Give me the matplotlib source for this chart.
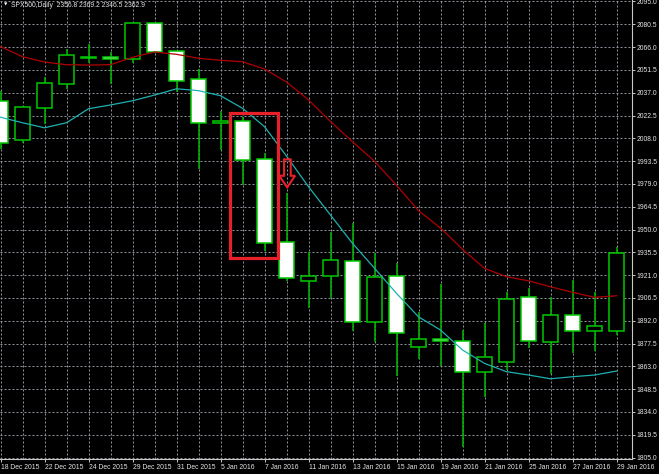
import numpy as np
import matplotlib
matplotlib.use('Agg')
import matplotlib.pyplot as plt
from matplotlib.patches import Rectangle, Polygon

# 日线数据 SPX500 (开, 高, 低, 收)
opens = [2031.9, 2007.2, 2027.5, 2042.7, 2060.0, 2059.6, 2058.4, 2081.1, 2063.3, 2045.5,
         2017.5, 2018.8, 1994.6, 1941.9, 1917.1, 1920.2, 1930.2, 1891.0, 1920.6, 1875.5,
         1880.4, 1879.3, 1859.2, 1865.7, 1906.9, 1878.6, 1895.6, 1885.4, 1885.6]
highs = [2038.3, 2028.2, 2046.8, 2065.0, 2067.8, 2062.9, 2081.5, 2081.6, 2063.8, 2051.9,
         2025.6, 2021.4, 1998.8, 1973.4, 1935.9, 1948.2, 1954.3, 1934.9, 1928.5, 1897.5,
         1915.3, 1886.1, 1890.7, 1910.4, 1912.6, 1907.3, 1917.9, 1910.1, 1939.1]
lows = [2001.0, 2005.0, 2016.9, 2039.2, 2056.1, 2042.5, 2055.7, 2062.5, 2037.6, 1988.3,
        2000.6, 1978.3, 1936.3, 1917.4, 1900.3, 1906.6, 1885.6, 1878.6, 1856.8, 1867.5,
        1863.2, 1811.5, 1843.7, 1861.0, 1874.4, 1858.1, 1871.7, 1872.7, 1883.1]
closes = [2004.8, 2027.7, 2043.0, 2060.8, 2058.9, 2058.7, 2081.1, 2062.9, 2044.4, 2017.9,
          2018.9, 1994.4, 1941.6, 1919.3, 1920.6, 1930.6, 1891.0, 1919.6, 1884.4, 1880.2,
          1879.4, 1859.2, 1868.7, 1905.6, 1879.1, 1895.6, 1885.4, 1888.6, 1935.2]

# 均线
ma_slow = [2066.3, 2059.9, 2056.5, 2054.8, 2054.6, 2054.8, 2059.5, 2062.9, 2061.4, 2058.9,
           2057.6, 2056.7, 2052.1, 2043.8, 2032.4, 2018.7, 2005.8, 1993.4, 1978.1, 1962.0,
           1951.0, 1937.4, 1925.3, 1920.0, 1917.4, 1913.6, 1910.1, 1906.9, 1907.9]
ma_fast = [2021.4, 2017.9, 2014.7, 2017.9, 2026.8, 2029.2, 2031.9, 2035.5, 2039.5, 2038.3,
           2035.1, 2027.1, 2015.4, 1996.7, 1977.2, 1959.2, 1941.2, 1925.4, 1909.4, 1894.5,
           1886.1, 1873.4, 1864.9, 1859.6, 1857.5, 1855.1, 1856.4, 1857.5, 1860.0]

date_labels = ['18 Dec 2015', '22 Dec 2015', '24 Dec 2015', '29 Dec 2015', '31 Dec 2015',
               '5 Jan 2016', '7 Jan 2016', '11 Jan 2016', '13 Jan 2016', '15 Jan 2016',
               '19 Jan 2016', '21 Jan 2016', '25 Jan 2016', '27 Jan 2016', '29 Jan 2016']
price_ticks = np.arange(1805.0, 2095.1, 14.5)

# 标注: 红框 (bar范围, 价格范围) 和 下箭头
box_bars = (10.43, 12.6)
box_prices = (1931.7, 2023.9)
arrow_bars = (12.67, 12.89, 13.19, 13.39)
arrow_prices = (1994.6, 1984.2, 1976.8)

plt.rcParams['font.family'] = ['Liberation Sans', 'DejaVu Sans']

fig = plt.figure(figsize=(6.59, 4.74), dpi=100, facecolor='black')
ax = fig.add_axes([0, 14.7 / 474, 631.7 / 659, 459.3 / 474])
ax.set_facecolor('black')

x = np.arange(len(opens))
o = np.array(opens)
c = np.array(closes)

# 影线
ax.vlines(x, lows, highs, color='#00b400', lw=1.15, zorder=2)
# 实体: 阳线黑色, 阴线白色
bottoms = np.minimum(o, c)
heights = np.maximum(np.abs(c - o), 0.6)
fills = ['black' if cc > oo else 'white' for oo, cc in zip(opens, closes)]
ax.bar(x, heights, bottom=bottoms, width=0.72, color=fills,
       edgecolor='#00c800', linewidth=1.1, zorder=3)

ax.plot(x, ma_slow, color='#b00000', lw=0.9, zorder=4)
ax.plot(x, ma_fast, color='#1fb0b0', lw=0.9, zorder=4)

# 红框
ax.add_patch(Rectangle((box_bars[0], box_prices[0]), box_bars[1] - box_bars[0],
                       box_prices[1] - box_prices[0], fill=False,
                       edgecolor='#e8202a', lw=2.3, zorder=5))
# 空心下箭头
a0, a1, a2, a3 = arrow_bars
p_top, p_mid, p_tip = arrow_prices
arrow_pts = [(a1, p_top), (a2, p_top), (a2, p_mid), (a3, p_mid),
             ((a0 + a3) / 2, p_tip), (a0, p_mid), (a1, p_mid)]
ax.add_patch(Polygon(arrow_pts, closed=True, fill=False,
                     edgecolor='#e8202a', lw=1.5, zorder=5))

ax.set_xlim(-0.023, 28.69)
ax.set_ylim(1803.9, 2095.95)

# 坐标轴
for side in ['top', 'left']:
    ax.spines[side].set_visible(False)
for side in ['bottom', 'right']:
    ax.spines[side].set_color('#c8c8c8')
    ax.spines[side].set_linewidth(0.8)

ax.yaxis.tick_right()
ax.set_yticks(price_ticks)
ax.set_yticklabels(['%.1f' % p for p in price_ticks])
ax.set_xticks(x[::2])
ax.set_xticklabels(date_labels, ha='left')
ax.set_xticks(x, minor=True)
ax.tick_params(axis='both', which='major', colors='#c8c8c8', labelcolor='#e6e6e6',
               labelsize=4.9, length=2.2, width=0.7, pad=1.2)
ax.tick_params(axis='x', which='minor', length=0)

ax.grid(True, which='both', axis='x', color='#8c939c', lw=0.72, linestyle=(0, (2, 2)))
ax.grid(True, which='major', axis='y', color='#8c939c', lw=0.72, linestyle=(0, (2, 2)))
ax.set_axisbelow(True)

# 标题
fig.text(4 / 659, 1 - 5 / 474, '▼', color='white', fontsize=3.2,
         family='DejaVu Sans', va='center', ha='left')
fig.text(11 / 659, 1 - 5.5 / 474, 'SPX500,Daily  2356.8 2369.2 2346.5 2362.9',
         color='#e6e6e6', fontsize=4.9, va='center', ha='left')

fig.savefig('out.png', dpi=100, facecolor='black')
